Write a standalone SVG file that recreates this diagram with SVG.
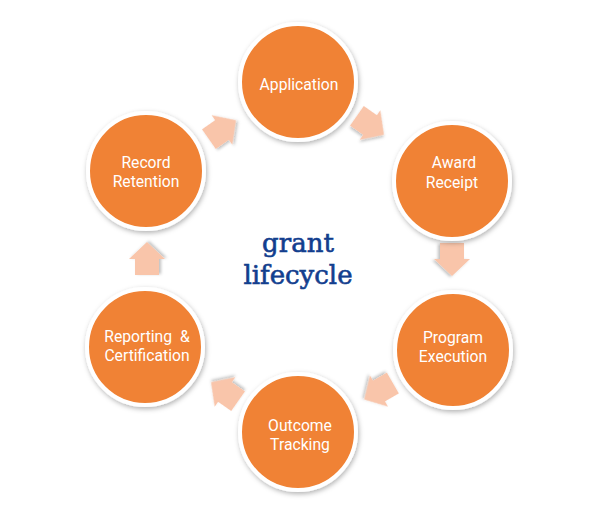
<svg xmlns="http://www.w3.org/2000/svg" width="602" height="510" viewBox="0 0 602 510">
<defs>
<filter id="sh" x="-20%" y="-20%" width="140%" height="140%">
<feDropShadow dx="1" dy="2" stdDeviation="2.5" flood-color="#000" flood-opacity="0.3"/>
</filter>
<filter id="ash" x="-30%" y="-30%" width="160%" height="160%">
<feDropShadow dx="1" dy="2" stdDeviation="1.5" flood-color="#000" flood-opacity="0.25"/>
</filter>
<path id="arr" d="M-16,-12 L0,-12 L0,-18 L17,0 L0,18 L0,12 L-16,12 Z"/>
</defs>
<style>
.node circle{fill:#F08234;stroke:#fff;stroke-width:4;filter:url(#sh)}
.node text{font-family:Roboto,"Liberation Sans",sans-serif;font-size:15.7px;fill:#fff;text-anchor:middle}
.conn use{fill:#F9C5AA;filter:url(#ash)}
.title{font-family:"DejaVu Serif","Liberation Serif",serif;font-size:26px;fill:#123E8E;text-anchor:middle;stroke:#123E8E;stroke-width:0.6}
</style>
<rect width="602" height="510" fill="#fff"/>
<g id="connectors" class="conn">
<use href="#arr" transform="translate(370,125) rotate(35)"/>
<use href="#arr" transform="translate(452,259) rotate(90)"/>
<use href="#arr" transform="translate(379,391) rotate(150)"/>
<use href="#arr" transform="translate(225,392) rotate(-145)"/>
<use href="#arr" transform="translate(147,259) rotate(-90)"/>
<use href="#arr" transform="translate(222,130) rotate(-35)"/>
</g>
<g id="application" class="node"><circle cx="298" cy="82" r="58"/><text x="299" y="90">Application</text></g>
<g id="award-receipt" class="node"><circle cx="452" cy="181" r="58"/><text x="454" y="168">Award</text><text x="452" y="188">Receipt</text></g>
<g id="program-execution" class="node"><circle cx="453" cy="350" r="58"/><text x="453" y="343">Program</text><text x="453" y="362">Execution</text></g>
<g id="outcome-tracking" class="node"><circle cx="298" cy="432" r="58"/><text x="300" y="431">Outcome</text><text x="300" y="450">Tracking</text></g>
<g id="reporting-certification" class="node"><circle cx="145" cy="347" r="58"/><text x="147" y="342" word-spacing="4">Reporting &amp;</text><text x="147" y="361">Certification</text></g>
<g id="record-retention" class="node"><circle cx="146" cy="171" r="58"/><text x="146" y="168">Record</text><text x="146" y="187">Retention</text></g>
<g id="title">
<text class="title" x="298" y="252">grant</text>
<text class="title" x="298" y="284">lifecycle</text>
</g>
</svg>
